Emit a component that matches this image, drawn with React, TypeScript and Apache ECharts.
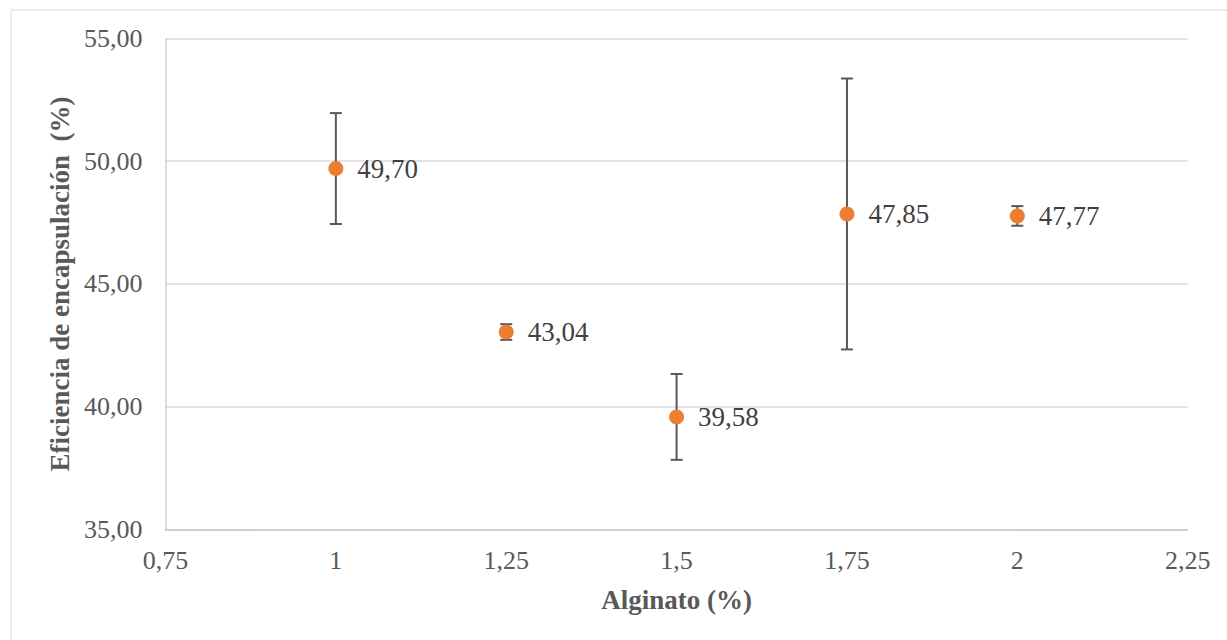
import React, { useEffect, useRef } from "react";
import * as echarts from "echarts";

const alginato = [1, 1.25, 1.5, 1.75, 2];
const eficiencia = [49.7, 43.04, 39.58, 47.85, 47.77];
const errores = [2.26, 0.32, 1.75, 5.52, 0.4];

const FONT = "'Liberation Serif', 'Times New Roman', serif";

const fmtX = (v: number) => String(Number(v.toFixed(2))).replace(".", ",");
const fmtY = (v: number) => v.toFixed(2).replace(".", ",");

export default function App() {
  const ref = useRef<HTMLDivElement>(null);
  useEffect(() => {
    if (!ref.current) return;
    const chart = echarts.init(ref.current, undefined, { renderer: "svg" });
    const points = alginato.map((x, i) => [x, eficiencia[i]]);
    const bars = alginato.map((x, i) => [x, eficiencia[i], errores[i]]);
    chart.setOption({
      animation: false,
      backgroundColor: "#ffffff",
      graphic: [
        {
          type: "rect",
          shape: { x: 11, y: 10, width: 1400, height: 800 },
          style: { fill: "none", stroke: "#d9d9d9", lineWidth: 1 },
          z: -10,
          silent: true,
        },
      ],
      grid: { left: 165.5, top: 38.5, right: 39.3, bottom: 110.7 },
      xAxis: {
        type: "value",
        min: 0.75,
        max: 2.25,
        interval: 0.25,
        name: "Alginato (%)",
        nameLocation: "middle",
        nameGap: 57,
        nameTextStyle: { fontFamily: FONT, fontSize: 27, fontWeight: "bold", color: "#595959" },
        axisLine: { show: true, lineStyle: { color: "#c8c8c8", width: 1.5 } },
        axisTick: { show: false },
        splitLine: { show: false },
        axisLabel: {
          formatter: (v: number) => fmtX(v),
          fontFamily: FONT,
          fontSize: 26,
          color: "#595959",
          margin: 18,
        },
      },
      yAxis: {
        type: "value",
        min: 35,
        max: 55,
        interval: 5,
        name: "Eficiencia de encapsulación  (%)",
        nameLocation: "middle",
        nameGap: 89,
        nameTextStyle: { fontFamily: FONT, fontSize: 27, fontWeight: "bold", color: "#595959" },
        axisLine: { show: true, lineStyle: { color: "#d0d0d0", width: 1.5 } },
        axisTick: { show: false },
        splitLine: { show: true, lineStyle: { color: "#d9d9d9", width: 1.5 } },
        axisLabel: {
          formatter: (v: number) => fmtY(v),
          fontFamily: FONT,
          fontSize: 26,
          color: "#595959",
          margin: 23,
        },
      },
      series: [
        {
          type: "custom",
          data: bars,
          z: 2,
          renderItem: (params: any, api: any) => {
            const x = api.value(0);
            const y = api.value(1);
            const e = api.value(2);
            const top = api.coord([x, y + e]);
            const bot = api.coord([x, y - e]);
            const cap = 6;
            const style = { stroke: "#595959", lineWidth: 2 };
            return {
              type: "group",
              children: [
                { type: "line", shape: { x1: top[0], y1: top[1], x2: bot[0], y2: bot[1] }, style },
                { type: "line", shape: { x1: top[0] - cap, y1: top[1], x2: top[0] + cap, y2: top[1] }, style },
                { type: "line", shape: { x1: bot[0] - cap, y1: bot[1], x2: bot[0] + cap, y2: bot[1] }, style },
              ],
            };
          },
        },
        {
          type: "scatter",
          data: points,
          z: 5,
          symbol: "circle",
          symbolSize: 15,
          itemStyle: { color: "#ED7D31", opacity: 1 },
          label: {
            show: true,
            position: "right",
            distance: 14,
            formatter: (p: any) => fmtY(p.value[1]),
            fontFamily: FONT,
            fontSize: 27,
            color: "#404040",
          },
        },
      ],
    });
    return () => chart.dispose();
  }, []);
  return (
    <div
      ref={ref}
      style={{ position: "fixed", left: 0, top: 0, width: 1227, height: 640, background: "#fff" }}
    />
  );
}
